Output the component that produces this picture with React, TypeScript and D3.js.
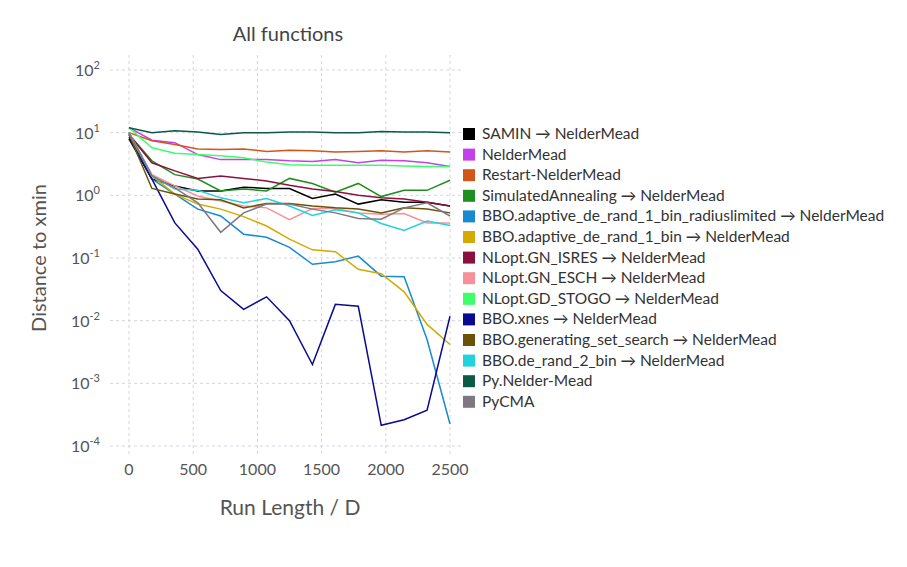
import { useEffect, useRef } from 'react'
import * as d3 from 'd3'

// values are log10(distance), 15 samples across 0..2500
const names = [
  'SAMIN → NelderMead', 'NelderMead', 'Restart-NelderMead', 'SimulatedAnnealing → NelderMead',
  'BBO.adaptive_de_rand_1_bin_radiuslimited → NelderMead', 'BBO.adaptive_de_rand_1_bin → NelderMead',
  'NLopt.GN_ISRES → NelderMead', 'NLopt.GN_ESCH → NelderMead', 'NLopt.GD_STOGO → NelderMead',
  'BBO.xnes → NelderMead', 'BBO.generating_set_search → NelderMead', 'BBO.de_rand_2_bin → NelderMead',
  'Py.Nelder-Mead', 'PyCMA',
]
const colors = ['#000000', '#c341e8', '#d2561a', '#1f8f1f', '#1a8ad0', '#d4a900', '#8b1040',
  '#f7909a', '#3cff6a', '#0a0a90', '#6b5208', '#22d3dc', '#0a5a45', '#807880']
const samin = [0.9, 0.26, 0.15, 0.07, 0.07, 0.13, 0.11, 0.11, -0.05, 0.02, -0.14, -0.07, -0.11, -0.11, -0.17]
const nelderMead = [1.08, 0.88, 0.84, 0.65, 0.57, 0.57, 0.57, 0.55, 0.54, 0.57, 0.52, 0.56, 0.55, 0.52, 0.46]
const restart = [1.0, 0.87, 0.81, 0.74, 0.73, 0.74, 0.7, 0.72, 0.71, 0.69, 0.7, 0.71, 0.69, 0.71, 0.69]
const simAnn = [0.97, 0.55, 0.33, 0.26, 0.07, 0.1, 0.07, 0.27, 0.19, 0.05, 0.19, -0.02, 0.08, 0.08, 0.24]
const radiusLim = [1.0, 0.26, 0.02, -0.22, -0.33, -0.62, -0.67, -0.83, -1.1, -1.06, -0.97, -1.29, -1.3, -2.3, -3.65]
const rand1bin = [1.0, 0.31, 0.02, -0.14, -0.22, -0.34, -0.49, -0.7, -0.87, -0.9, -1.18, -1.25, -1.54, -2.06, -2.38]
const isres = [0.97, 0.52, 0.39, 0.27, 0.31, 0.27, 0.23, 0.16, 0.1, 0.06, 0.0, -0.04, -0.06, -0.11, -0.17]
const esch = [1.0, 0.33, 0.15, -0.01, -0.09, -0.17, -0.2, -0.39, -0.21, -0.21, -0.28, -0.3, -0.29, -0.44, -0.44]
const stogo = [1.08, 0.76, 0.67, 0.65, 0.63, 0.6, 0.53, 0.49, 0.48, 0.48, 0.48, 0.48, 0.47, 0.46, 0.46]
const xnes = [0.93, 0.26, -0.44, -0.86, -1.52, -1.82, -1.62, -2.0, -2.7, -1.74, -1.77, -3.67, -3.58, -3.43, -1.93]
const genSet = [0.97, 0.11, 0.02, -0.06, -0.07, -0.2, -0.13, -0.13, -0.17, -0.2, -0.22, -0.28, -0.2, -0.22, -0.28]
const deRand2 = [1.0, 0.31, 0.1, 0.08, -0.04, -0.12, -0.05, -0.17, -0.32, -0.23, -0.28, -0.45, -0.56, -0.41, -0.48]
const pyNM = [1.08, 1.0, 1.03, 1.01, 0.97, 1.0, 1.0, 1.01, 1.01, 1.0, 1.0, 1.02, 1.01, 1.01, 1.0]
const pyCMA = [1.0, 0.31, 0.12, -0.12, -0.59, -0.28, -0.14, -0.14, -0.22, -0.28, -0.37, -0.38, -0.2, -0.12, -0.33]
const series = [samin, nelderMead, restart, simAnn, radiusLim, rand1bin, isres, esch, stogo, xnes, genSet, deRand2, pyNM, pyCMA]
const xTicks = [0, 500, 1000, 1500, 2000, 2500]
const yTicks = [2, 1, 0, -1, -2, -3, -4]

const App = () => {
  const ref = useRef<SVGSVGElement | null>(null)

  useEffect(() => {
    if (!ref.current) return
    const svg = d3.select(ref.current)
    svg.selectAll('*').remove()
    const font = 'Lato, "Open Sans", sans-serif'

    const x = d3.scaleLinear().domain([0, 2500]).range([129, 450])
    const y = d3.scaleLinear().domain([-4, 2]).range([446, 70])

    const grid = svg.append('g').attr('stroke', '#d4d4e2').attr('stroke-dasharray', '3,3')
    xTicks.forEach(t => grid.append('line').attr('x1', x(t)).attr('x2', x(t)).attr('y1', 55).attr('y2', 455))
    yTicks.forEach(t => grid.append('line').attr('x1', 110).attr('x2', 462).attr('y1', y(t)).attr('y2', y(t)))

    xTicks.forEach(t => svg.append('text').attr('x', x(t)).attr('y', 475).attr('text-anchor', 'middle')
      .attr('font-family', font).attr('font-size', 16).attr('fill', '#555').text(t))
    yTicks.forEach(t => {
      const tx = svg.append('text').attr('x', 100).attr('y', y(t) + 6).attr('text-anchor', 'end')
        .attr('font-family', font).attr('font-size', 16).attr('fill', '#555')
      tx.append('tspan').text('10')
      tx.append('tspan').attr('dy', -7).attr('font-size', 11).text(t)
    })

    const line = d3.line<number>().x((_, i) => x(i * 2500 / 14)).y(d => y(d))
    series.forEach((s, i) => svg.append('path').attr('d', line(s)).attr('fill', 'none')
      .attr('stroke', colors[i]).attr('stroke-width', 1.5))

    names.forEach((n, i) => {
      const ly = 134 + i * 20.6
      svg.append('rect').attr('x', 463).attr('y', ly - 6).attr('width', 12).attr('height', 12).attr('fill', colors[i])
      svg.append('text').attr('x', 482).attr('y', ly + 5).attr('font-family', font).attr('font-size', 15.5)
        .attr('fill', '#333').text(n)
    })

    svg.append('text').attr('x', 288).attr('y', 41).attr('text-anchor', 'middle').attr('font-family', font)
      .attr('font-size', 20).attr('fill', '#444').text('All functions')
    svg.append('text').attr('x', 290).attr('y', 515).attr('text-anchor', 'middle').attr('font-family', font)
      .attr('font-size', 21).attr('fill', '#555').text('Run Length / D')
    svg.append('text').attr('transform', 'translate(46,258) rotate(-90)').attr('text-anchor', 'middle')
      .attr('font-family', font).attr('font-size', 20).attr('fill', '#555').text('Distance to xmin')
  }, [])

  return <svg ref={ref} width={907} height={567} style={{ position: 'absolute', left: 0, top: 0 }} />
}

export default App
